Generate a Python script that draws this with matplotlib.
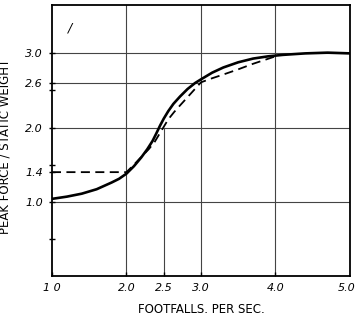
import matplotlib
matplotlib.use("Agg")
import matplotlib.pyplot as plt

# solid curve
solid_x = [1.0, 1.2, 1.4, 1.6, 1.8, 1.9, 2.0, 2.1, 2.2, 2.28, 2.35, 2.4, 2.45, 2.5, 2.56,
           2.63, 2.72, 2.82, 2.92, 3.0, 3.15, 3.3, 3.5, 3.7, 3.9, 4.1, 4.4, 4.7, 5.0]
solid_y = [1.04, 1.07, 1.11, 1.17, 1.26, 1.31, 1.38, 1.48, 1.60, 1.71, 1.82, 1.92, 2.025, 2.12, 2.22,
           2.32, 2.42, 2.52, 2.60, 2.65, 2.74, 2.81, 2.88, 2.93, 2.96, 2.98, 3.0, 3.01, 3.0]

# dashed curve
dash_x = [1.0, 2.0, 2.1, 2.2, 2.3, 2.38, 2.44, 2.5, 2.56, 2.64, 2.72, 2.82, 2.91, 3.0,
          3.15, 3.3, 3.5, 3.7, 3.85, 4.0]
dash_y = [1.4, 1.4, 1.5, 1.605, 1.71, 1.81, 1.91, 2.01, 2.11, 2.21, 2.30, 2.41, 2.51, 2.61,
          2.665, 2.715, 2.785, 2.86, 2.91, 2.96]

x_ticks = [1.0, 2.0, 2.5, 3.0, 4.0]
x_labels = ['1 0', '2.0', '2.5', '3.0', '4.0']
x_last = '5.0'
y_ticks = [1.0, 1.4, 2.0, 2.6, 3.0]
y_labels = ['1.0', '1.4', '2.0', '2.6', '3.0']
y_minor = [0.5, 1.5, 2.5]

fig = plt.figure(figsize=(3.56, 3.21), dpi=100)
ax = fig.add_axes([0.146, 0.140, 0.837, 0.844])
ax.set_xlim(1.0, 5.0)
ax.set_ylim(0.0, 3.65)

grid = dict(color='#444444', linewidth=0.8, zorder=1)
# horizontal grid lines
for yv in [1.0, 2.0, 3.0]:
    ax.plot([1.0, 5.0], [yv, yv], **grid)
ax.plot([1.0, 3.0], [2.6, 2.6], **grid)
# vertical grid lines
for xv in [2.0, 3.0, 4.0]:
    ax.plot([xv, xv], [0.0, 3.65], **grid)
ax.plot([2.5, 2.5], [0.0, 2.0], **grid)

ax.plot(solid_x, solid_y, color='black', linewidth=1.9, zorder=3,
        solid_joinstyle='round')
ax.plot(dash_x, dash_y, color='black', linewidth=1.3, linestyle=(0, (5, 3)), zorder=3)

ax.text(1.22, 3.3, '/', fontsize=9, style='italic')

for s in ax.spines.values():
    s.set_linewidth(1.3)

ax.set_xticks(x_ticks)
ax.set_xticklabels(x_labels, fontsize=8, style='italic')
ax.annotate(x_last, xy=(5.0, 0.0), xycoords='data', xytext=(4, -5),
            textcoords='offset points', ha='right', va='top',
            fontsize=8, style='italic')
ax.set_yticks(y_ticks)
ax.set_yticklabels(y_labels, fontsize=8, style='italic')
ax.set_yticks(y_minor, minor=True)
ax.tick_params(axis='x', direction='in', length=3, width=1, pad=5)
ax.tick_params(axis='y', which='both', direction='inout', length=5, width=1, pad=4)

ax.set_xlabel('FOOTFALLS. PER SEC.', fontsize=8.5, labelpad=7)
ax.set_ylabel('PEAK FORCE / STATIC WEIGHT', fontsize=8.5)
ax.yaxis.set_label_coords(-0.135, 0.48)

fig.savefig('out.png', dpi=100)
